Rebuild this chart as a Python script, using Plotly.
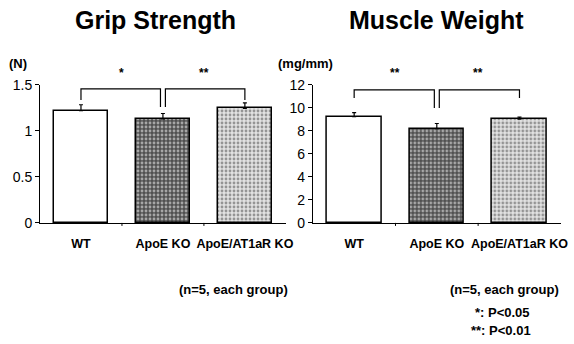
import plotly.graph_objects as go

categories = ["WT", "ApoE KO", "ApoE/AT1aR KO"]
grip_values = [1.22, 1.13, 1.245]
grip_err = [0.065, 0.06, 0.06]
muscle_values = [9.25, 8.2, 9.03]
muscle_err = [0.35, 0.45, 0.18]
grip_ticks = [0, 0.5, 1, 1.5]
grip_ticklabels = ["0", "0.5", "1", "1.5"]
muscle_ticks = [0, 2, 4, 6, 8, 10, 12]

FONT = "Liberation Sans, Arial, sans-serif"
bar_colors = ["white", "#505050", "#e2e2e2"]
pattern_fg = ["white", "#888888", "#b5b5b5"]
pattern_shape = ["", ".", "."]

fig = go.Figure()

for vals, errs, xa, ya in [(grip_values, grip_err, "x", "y"), (muscle_values, muscle_err, "x2", "y2")]:
    fig.add_trace(go.Bar(
        x=[0, 1, 2], y=vals, xaxis=xa, yaxis=ya, width=0.66,
        marker=dict(color=bar_colors, line=dict(color="black", width=1.5),
                    pattern=dict(shape=pattern_shape, fgcolor=pattern_fg, size=4, solidity=0.4)),
        error_y=dict(type="data", symmetric=False, array=errs, arrayminus=[0, 0, 0],
                     color="black", thickness=1.2, width=2),
        showlegend=False, hoverinfo="skip",
    ))

common_x = dict(range=[-0.5, 2.5], tickvals=[0, 1, 2], ticktext=categories,
                showline=True, linecolor="black", linewidth=1, ticks="",
                tickfont=dict(family=FONT, size=12.5, color="black", weight="bold"),
                ticklabelstandoff=9, showgrid=False, zeroline=False, fixedrange=True,
                automargin=False)
fig.update_layout(
    width=574, height=344, margin=dict(l=0, r=0, t=0, b=0, autoexpand=False),
    paper_bgcolor="white", plot_bgcolor="white",
    font=dict(family=FONT, color="black"),
    bargap=0,
    xaxis=dict(domain=[0.0697, 0.498], anchor="y", **common_x),
    xaxis2=dict(domain=[0.545, 0.977], anchor="y2", **common_x),
    yaxis=dict(domain=[0.352, 0.753], anchor="x", range=[0, 1.5], tickvals=grip_ticks,
               ticktext=grip_ticklabels, showline=True, linecolor="black", linewidth=1,
               ticks="outside", ticklen=4, tickcolor="black", showgrid=False, zeroline=False,
               tickfont=dict(family=FONT, size=14, color="black"), automargin=False,
               fixedrange=True),
    yaxis2=dict(domain=[0.352, 0.753], anchor="x2", range=[0, 12], tickvals=muscle_ticks,
                showline=True, linecolor="black", linewidth=1,
                ticks="outside", ticklen=4, tickcolor="black", showgrid=False, zeroline=False,
                tickfont=dict(family=FONT, size=14, color="black"), automargin=False,
                fixedrange=True),
)

# category boundary tick marks on x axes
shapes = []
for xa, ya in [("x", "y"), ("x2", "y2")]:
    for b in [0.5, 1.5]:
        shapes.append(dict(type="line", xref=xa, yref="paper", x0=b, x1=b,
                           y0=0.352, y1=0.352 - 3 / 344, line=dict(color="black", width=1)))

# significance brackets: (left x, right x, top y, left drop y, right drop y)
grip_brackets = [(0.0, 0.97, 1.457, 1.337, 1.26), (1.03, 2.0, 1.457, 1.26, 1.337)]
muscle_brackets = [(0.0, 0.97, 11.57, 10.87, 10.0), (1.03, 2.0, 11.57, 10.0, 10.87)]
for brs, xa, ya in [(grip_brackets, "x", "y"), (muscle_brackets, "x2", "y2")]:
    for x0, x1, yt, yl, yr in brs:
        shapes.append(dict(type="path", xref=xa, yref=ya,
                           path=f"M {x0},{yl} L {x0},{yt} L {x1},{yt} L {x1},{yr}",
                           line=dict(color="black", width=1.2)))
fig.update_layout(shapes=shapes)

ann = []
grip_stars = ["*", "**"]
muscle_stars = ["**", "**"]
for stars, xa in [(grip_stars, "x"), (muscle_stars, "x2")]:
    for i, s in enumerate(stars):
        ann.append(dict(text=s, xref=xa, yref="paper", x=0.5 + i, y=1 - 73 / 344,
                        xanchor="center", yanchor="middle",
                        showarrow=False, font=dict(size=12, family=FONT, weight="bold")))

texts = [
    ("Grip Strength", 155 / 574, 1 - 20 / 344, 25, "center"),
    ("Muscle Weight", 436 / 574, 1 - 20 / 344, 25, "center"),
    ("(N)", 7 / 574, 1 - 63 / 344, 13, "left"),
    ("(mg/mm)", 276 / 574, 1 - 63 / 344, 13, "left"),
    ("(n=5, each group)", 233 / 574, 1 - 289 / 344, 13, "center"),
    ("(n=5, each group)", 504 / 574, 1 - 289 / 344, 13, "center"),
    ("*: P<0.05", 502 / 574, 1 - 312 / 344, 13, "center"),
    ("**: P<0.01", 501 / 574, 1 - 330 / 344, 13, "center"),
]
for t, x, y, sz, al in texts:
    ann.append(dict(text=t, xref="paper", yref="paper", x=x, y=y, xanchor=al, yanchor="middle",
                    showarrow=False, font=dict(size=sz, family=FONT, weight="bold", color="black")))
fig.update_layout(annotations=ann)

fig.write_html("out.html", config={"displayModeBar": False},
               post_script="document.body.style.margin='0';")
